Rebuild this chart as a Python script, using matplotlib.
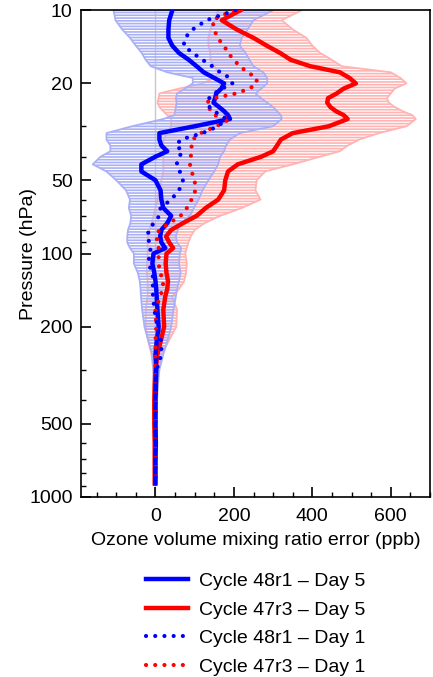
import matplotlib
matplotlib.use('Agg')
import matplotlib.pyplot as plt
from matplotlib.lines import Line2D
from matplotlib.ticker import FixedLocator, NullFormatter
import numpy as np

plt.rcParams['font.family'] = ['Liberation Sans', 'DejaVu Sans']
plt.rcParams['hatch.linewidth'] = 1.2

# niveles de presion (hPa)
pressure = [10, 11, 12, 13, 14, 15, 16, 17, 18, 19, 20, 21, 22, 23, 24, 25, 26, 27, 28,
            30, 32, 34, 36, 38, 40, 43, 46, 50, 55, 60, 65, 70, 75, 80, 85, 90, 95,
            100, 110, 120, 130, 140, 150, 170, 200, 230, 260, 300, 350, 400, 500,
            600, 700, 800, 880]

# Cycle 48r1 - Day 5
b5 = [43, 35, 33, 33, 43, 60, 85, 105, 123, 150, 175, 168, 155, 152, 148, 162, 175, 185, 190,
      100, 10, 10, 15, 30, 0, -36, -36, 0, 13, 15, 20, 40, 30, 15, 12, 15, 25,
      -5, -8, -3, 0, 2, 3, 5, 8, 3, 0, 2, 1, 0, 0,
      1, 0, 0, 0]
# Cycle 47r3 - Day 5
r5 = [217, 169, 207, 250, 284, 318, 345, 395, 470, 495, 511, 480, 462, 440, 438, 446, 460, 480, 490,
      442, 350, 320, 310, 300, 270, 210, 185, 178, 175, 160, 128, 105, 70, 40, 27, 35, 45,
      28, 26, 28, 32, 30, 25, 20, 22, 13, 5, 0, -2, -3, -3,
      -2, -2, -2, -2]
# Cycle 48r1 - Day 1
b1 = [204, 130, 95, 75, 72, 95, 120, 145, 165, 190, 196, 170, 150, 137, 135, 138, 150, 165, 180,
      160, 120, 65, 52, 70, 60, 54, 62, 70, 60, 40, 13, 10, -5, -15, -23, -15, -12,
      -15, -18, -8, -5, -8, -6, -3, 5, 15, 15, 3, 0, 0, 0,
      0, 0, 0, 0]
# Cycle 47r3 - Day 1
r1 = [199, 145, 150, 158, 175, 185, 200, 215, 235, 258, 258, 240, 205, 150, 130, 135, 142, 150, 190,
      155, 115, 95, 92, 92, 90, 88, 92, 100, 102, 92, 80, 64, 35, 10, 0, 8, 8,
      8, 8, 12, 20, 18, 12, 0, 2, 0, 0, 0, 0, 0, 0,
      0, 0, 0, 0]

# rangos (min / max)
b_min = [-107, -102, -85, -65, -50, -35, -25, -12, 30, 95, 95, 75, 55, 52, 54, 52, 50, 48, 20,
         -60, -125, -125, -115, -115, -140, -160, -125, -100, -75, -65, -68, -62, -64, -70, -72, -72, -65,
         -55, -55, -45, -40, -38, -37, -34, -28, -18, -8, -5, -4, -3, -2,
         -2, -2, -2, -2]
b_max = [300, 250, 235, 220, 215, 230, 240, 250, 275, 285, 285, 270, 255, 270, 285, 300, 310, 320, 322,
         300, 215, 190, 180, 175, 165, 160, 150, 135, 120, 110, 98, 88, 65, 57, 52, 55, 66,
         62, 60, 64, 60, 55, 52, 46, 40, 30, 20, 10, 6, 4, 3,
         3, 3, 3, 3]
r_min = [160, 150, 140, 135, 135, 140, 140, 150, 160, 150, 120, 60, 10, 8, 5, 10, 20, 30, 40,
         40, 30, 20, 20, 20, 20, 20, 20, 15, 10, 5, 0, -5, -10, -15, -20, -20, -20,
         -20, -22, -22, -20, -20, -20, -25, -25, -18, -10, -6, -5, -4, -3,
         -3, -3, -3, -3]
r_max = [373, 322, 350, 385, 400, 420, 450, 475, 600, 625, 640, 610, 600, 590, 595, 610, 630, 655, 664,
         640, 570, 520, 490, 470, 420, 350, 280, 258, 255, 268, 220, 165, 125, 100, 90, 84, 80,
         76, 80, 78, 73, 60, 42, 55, 53, 33, 15, 8, 5, 4, 3,
         3, 3, 3, 3]

fig = plt.figure(figsize=(4.33, 6.77), dpi=100)
ax = fig.add_axes([0.187, 0.266, 0.806, 0.719])

ax.axvline(0, color='#c8c8c8', lw=1.0, zorder=0)

ax.fill_betweenx(pressure, r_min, r_max, facecolor='none', edgecolor='#ffb3b3',
                 hatch='------', linewidth=1.3, zorder=1)
ax.fill_betweenx(pressure, b_min, b_max, facecolor='none', edgecolor='#aab0f5',
                 hatch='------', linewidth=1.3, zorder=2)

ax.plot(r5, pressure, color='#ff0000', lw=3.2, zorder=3)
ax.plot(b5, pressure, color='#0000ff', lw=3.2, zorder=4)
ax.plot(r1, pressure, color='#ff0000', lw=3, linestyle=(0, (0.01, 2.2)),
        dash_capstyle='round', zorder=5)
ax.plot(b1, pressure, color='#0000ff', lw=3, linestyle=(0, (0.01, 2.2)),
        dash_capstyle='round', zorder=6)

ax.set_yscale('log')
ax.set_ylim(1000, 10)
ax.set_xlim(-190, 700)

yticks = [10, 20, 50, 100, 200, 500, 1000]
ax.yaxis.set_major_locator(FixedLocator(yticks))
ax.set_yticklabels([str(t) for t in yticks])
ax.yaxis.set_minor_locator(FixedLocator([30, 40, 60, 70, 80, 90, 300, 400, 600, 700, 800, 900]))
ax.yaxis.set_minor_formatter(NullFormatter())

ax.set_xticks([0, 200, 400, 600])
ax.set_xticks(np.arange(-150, 701, 50), minor=True)

ax.tick_params(axis='both', which='major', direction='in', length=7, width=1.2,
               labelsize=14, pad=6)
ax.tick_params(axis='both', which='minor', direction='in', length=3.5, width=1.0)
ax.tick_params(axis='x', which='major', pad=8)

for s in ax.spines.values():
    s.set_linewidth(1.2)

ax.set_xlabel('Ozone volume mixing ratio error (ppb)', fontsize=14, labelpad=5)
ax.set_ylabel('Pressure (hPa)', fontsize=14)
ax.yaxis.set_label_coords(-0.127, 0.5)

dot = (0, (0.01, 2.2))
handles = [
    Line2D([], [], color='#0000ff', lw=3.2),
    Line2D([], [], color='#ff0000', lw=3.2),
    Line2D([], [], color='#0000ff', lw=3, linestyle=dot, dash_capstyle='round'),
    Line2D([], [], color='#ff0000', lw=3, linestyle=dot, dash_capstyle='round'),
]
labels = ['Cycle 48r1 \u2013 Day 5', 'Cycle 47r3 \u2013 Day 5',
          'Cycle 48r1 \u2013 Day 1', 'Cycle 47r3 \u2013 Day 1']
fig.legend(handles, labels, loc='upper center', bbox_to_anchor=(0.59, 0.180),
           frameon=False, fontsize=14, handlelength=2.15, handletextpad=0.57,
           labelspacing=0.56)

fig.savefig('out.png', dpi=100)
